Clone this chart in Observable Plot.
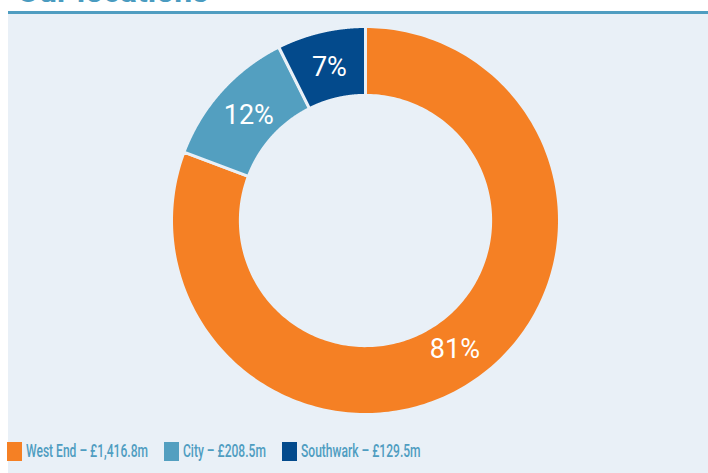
<!DOCTYPE html>
<html><head><meta charset="utf-8">
<script src="https://cdn.jsdelivr.net/npm/d3@7"></script>
<script src="https://cdn.jsdelivr.net/npm/@observablehq/plot@0.6"></script>
<style>
body{margin:0;background:#fff;}
#wrap{position:relative;width:708px;height:473px;overflow:hidden;font-family:Roboto,sans-serif;}
#title{position:absolute;left:17px;top:-25px;font-size:32px;font-weight:bold;color:#4a9bc0;line-height:32px;white-space:nowrap;}
#panel{position:absolute;left:8px;top:11px;width:700px;height:462px;background:#e9f0f7;border-top:3px solid #4f9dc1;}
#chart{position:absolute;left:0;top:0;}
#legend{position:absolute;left:-1px;top:428px;height:20px;font-family:Roboto,sans-serif;font-size:19px;font-weight:500;color:#4f9dc1;}
.sw{position:absolute;top:0;width:15px;height:19px;}
.lb{position:absolute;top:-1px;line-height:20px;white-space:nowrap;transform-origin:0 50%;}
</style></head>
<body>
<div id="wrap">
  <div id="title">Our locations</div>
  <div id="panel">
    <div id="chart"></div>
    <div id="legend"></div>
  </div>
</div>
<script>
const names = ["West End", "City", "Southwark"];
const values = [1416.8, 208.5, 129.5];
const percentLabels = ["81%", "12%", "7%"];
const legendLabels = ["West End – £1,416.8m", "City – £208.5m", "Southwark – £129.5m"];
const colors = ["#f58024", "#539fc0", "#034a8c"];
const bg = "#e9f0f7";

const R = 194;               // pixels per data unit (outer radius)
const innerRatio = 0.645;
const W = 700, H = 420, CX = 357, CY = 206;

const pie = d3.pie().sort(null).value(d => d.value)(names.map((n, i) => ({name: n, value: values[i], label: percentLabels[i]})));

const pts = [];
for (const p of pie) {
  const n = 240;
  for (let k = 0; k <= n; k++) {
    const a = p.startAngle + (p.endAngle - p.startAngle) * k / n;
    pts.push({name: p.data.name, x: Math.sin(a), y: Math.cos(a)});
  }
  for (let k = n; k >= 0; k--) {
    const a = p.startAngle + (p.endAngle - p.startAngle) * k / n;
    pts.push({name: p.data.name, x: innerRatio * Math.sin(a), y: innerRatio * Math.cos(a)});
  }
}
const labelR = 0.81;
const labels = pie.map(p => {
  const a = (p.startAngle + p.endAngle) / 2;
  return {label: p.data.label, x: labelR * Math.sin(a), y: labelR * Math.cos(a)};
});

const chart = Plot.plot({
  width: W, height: H, margin: 0,
  style: {background: "transparent", overflow: "visible"},
  x: {domain: [-CX / R, (W - CX) / R], axis: null},
  y: {domain: [-(H - CY) / R, CY / R], axis: null},
  color: {domain: names, range: colors},
  marks: [
    Plot.line(pts, {x: "x", y: "y", z: "name", fill: "name", stroke: bg, strokeWidth: 3, curve: "linear-closed"}),
    Plot.text(labels, {x: "x", y: "y", text: "label", fill: "white", fontSize: 27, fontFamily: "Roboto, sans-serif"})
  ]
});
document.getElementById("chart").appendChild(chart);

const legend = document.getElementById("legend");
let x = 0;
const els = [];
names.forEach((n, i) => {
  const sw = document.createElement("div");
  sw.className = "sw"; sw.style.background = colors[i];
  const lb = document.createElement("div");
  lb.className = "lb"; lb.textContent = legendLabels[i];
  legend.appendChild(sw); legend.appendChild(lb);
  els.push([sw, lb]);
});
const s = 122 / els[0][1].getBoundingClientRect().width;
els.forEach(([sw, lb]) => {
  const w = lb.getBoundingClientRect().width * s;
  lb.style.transform = `scaleX(${s})`;
  sw.style.left = x + "px";
  lb.style.left = (x + 19) + "px";
  x += 19 + w + 16;
});
</script>
</body></html>
